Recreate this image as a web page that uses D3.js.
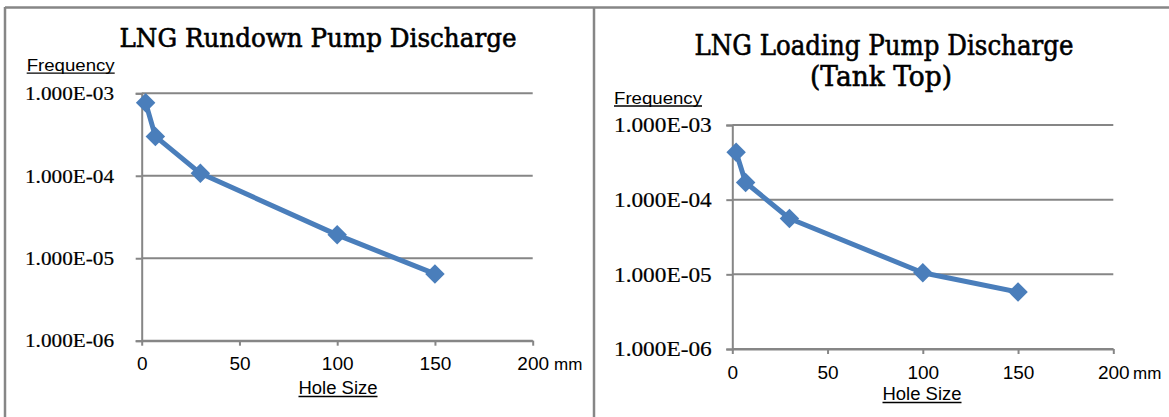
<!DOCTYPE html>
<html>
<head>
<meta charset="utf-8">
<script src="https://cdn.jsdelivr.net/npm/d3@7"></script>
<style>
  html, body { margin: 0; padding: 0; background: #fff; }
  svg { display: block; }
</style>
</head>
<body>
<svg id="chart" width="1169" height="417"></svg>
<script>
// hole sizes (mm) and leak frequencies
var holeSizes = [2, 7, 30, 100, 150];
var rundownFreq = [7.7e-4, 3.0e-4, 1.07e-4, 1.92e-5, 6.45e-6];
var loadingFreq = [4.3e-4, 1.7e-4, 5.6e-5, 1.05e-5, 5.8e-6];
var xTicks = [0, 50, 100, 150, 200];
var yTicks = [1e-3, 1e-4, 1e-5, 1e-6];
var titles = [["LNG Rundown Pump Discharge"], ["LNG Loading Pump Discharge", "(Tank Top)"]];

var svg = d3.select("#chart");
var gray = "#868686";
var blue = "#4a7ebb";
var serif = "'DejaVu Serif', serif";
var labelSerif = "'Liberation Serif', serif";
var sans = "'Liberation Sans', Arial, sans-serif";

// panel frames
svg.append("line").attr("x1", 5).attr("x2", 1169).attr("y1", 7.5).attr("y2", 7.5)
   .attr("stroke", gray).attr("stroke-width", 2.5);
[5, 594].forEach(function(x) {
  svg.append("line").attr("x1", x).attr("x2", x).attr("y1", 7).attr("y2", 417)
     .attr("stroke", gray).attr("stroke-width", 2.5);
});

// excel style 1.000E-03
function sci(v) {
  var e = Math.floor(Math.log10(v) + 1e-9);
  var m = v / Math.pow(10, e);
  return m.toFixed(3) + "E" + (e < 0 ? "-" : "+") + String(Math.abs(e)).padStart(2, "0");
}

function underlined(g, txt, x, y, size, len, anchor) {
  g.append("text").attr("x", x).attr("y", y).attr("text-anchor", anchor)
    .style("font-family", sans).style("font-size", size + "px").attr("fill", "#000")
    .attr("textLength", len).attr("lengthAdjust", "spacingAndGlyphs").text(txt);
  var x0 = anchor == "middle" ? x - len / 2 : x;
  g.append("line").attr("x1", x0).attr("x2", x0 + len).attr("y1", y + 2.5).attr("y2", y + 2.5)
    .attr("stroke", "#000").attr("stroke-width", 1.3);
}

function drawPanel(p) {
  var g = svg.append("g");
  var x = d3.scaleLinear().domain([0, 200]).range([p.x0, p.x1]);
  var y = d3.scaleLog().domain([1e-6, 1e-3]).range([p.yb, p.yt]);

  // titles
  p.title.forEach(function(t, i) {
    g.append("text").attr("x", p.titleX[i]).attr("y", p.titleY[i])
      .attr("text-anchor", "middle").style("font-family", serif).style("font-size", p.titleSize + "px")
      .attr("textLength", p.titleLen[i]).attr("lengthAdjust", "spacingAndGlyphs")
      .attr("fill", "#000").attr("stroke", "#000").attr("stroke-width", 0.6).text(t);
  });

  // gridlines
  g.selectAll(".grid").data(yTicks).enter().append("line")
    .attr("x1", p.x0).attr("x2", p.x1)
    .attr("y1", function(d) { return y(d); }).attr("y2", function(d) { return y(d); })
    .attr("stroke", gray).attr("stroke-width", 2);

  // y axis
  var ya = g.append("g").attr("transform", "translate(" + p.x0 + ",0)")
    .call(d3.axisLeft(y).tickValues(yTicks).tickSize(6).tickPadding(18).tickFormat(sci));
  ya.select(".domain").attr("stroke", gray).attr("stroke-width", 2);
  ya.selectAll(".tick line").attr("stroke", gray).attr("stroke-width", 2);
  ya.selectAll(".tick text").style("font-family", labelSerif).style("font-size", p.ySize + "px")
    .attr("fill", "#000").attr("stroke", "#000").attr("stroke-width", 0.2)
    .attr("x", p.yLabelRight - p.x0).attr("dy", "0.33em")
    .attr("textLength", p.yLen).attr("lengthAdjust", "spacingAndGlyphs");

  // x axis
  var xa = g.append("g").attr("transform", "translate(0," + p.yb + ")")
    .call(d3.axisBottom(x).tickValues(xTicks).tickSize(5).tickPadding(12).tickSizeOuter(0));
  xa.select(".domain").attr("stroke", gray).attr("stroke-width", 2);
  xa.selectAll(".tick line").attr("stroke", gray).attr("stroke-width", 2);
  xa.selectAll(".tick text").style("font-family", sans).style("font-size", "19px")
    .attr("fill", "#000").attr("dy", null).attr("y", 29.5);

  g.append("text").attr("x", p.mmX).attr("y", p.yb + 29.5).style("font-family", sans)
    .style("font-size", "17px").attr("fill", "#000").text("mm");

  underlined(g, "Frequency", p.freqX, p.freqY, 17, 88, "start");
  underlined(g, "Hole Size", p.holeX, p.holeY, 18, 79, "middle");

  // series
  var pts = holeSizes.map(function(s, i) { return [s, p.values[i]]; });
  g.append("path").datum(pts)
    .attr("d", d3.line().x(function(d) { return x(d[0]); }).y(function(d) { return y(d[1]); }))
    .attr("fill", "none").attr("stroke", blue).attr("stroke-width", 5)
    .attr("stroke-linejoin", "round");
  g.selectAll(".mark").data(pts).enter().append("path")
    .attr("d", d3.symbol(d3.symbolSquare, 190))
    .attr("transform", function(d) { return "translate(" + x(d[0]) + "," + y(d[1]) + ") rotate(45)"; })
    .attr("fill", blue);
}

drawPanel({
  values: rundownFreq, title: titles[0],
  x0: 141.7, x1: 532.7, yt: 93.3, yb: 340.7,
  titleX: [318], titleY: [46.5], titleLen: [397], titleSize: 26,
  yLabelRight: 114, yLen: 89, ySize: 19,
  mmX: 554, freqX: 26.7, freqY: 70.7, holeX: 338, holeY: 394
});

drawPanel({
  values: loadingFreq, title: titles[1],
  x0: 732.3, x1: 1113.3, yt: 125, yb: 349,
  titleX: [884, 881], titleY: [55, 86], titleLen: [379, 142], titleSize: 27,
  yLabelRight: 711.7, yLen: 97.7, ySize: 21,
  mmX: 1133, freqX: 614, freqY: 103.5, holeX: 922, holeY: 400
});
</script>
</body>
</html>
